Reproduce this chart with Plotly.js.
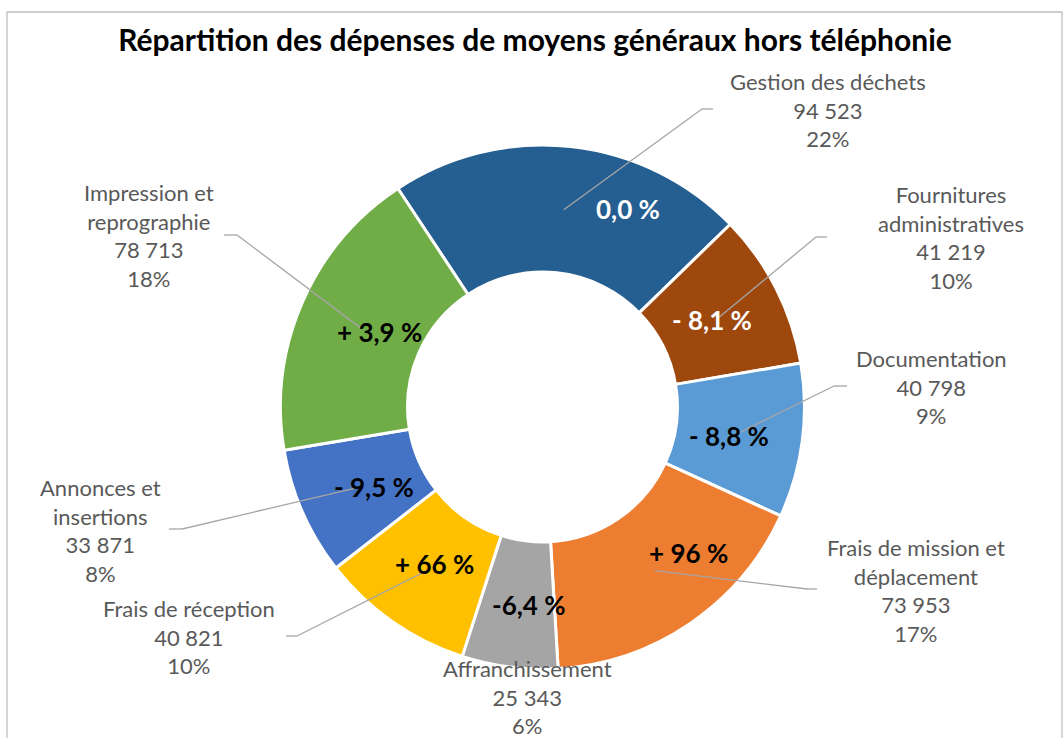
<!DOCTYPE html>
<html>
<head>
<meta charset="utf-8">
<script src="https://cdn.plot.ly/plotly-3.0.1.min.js"></script>
<style>html,body{margin:0;padding:0;background:#fff;}#chart{width:1064px;height:738px;}</style>
</head>
<body>
<div id="chart"></div>
<script>
// ---- Data ----
const categories = [
  'Gestion des déchets',
  'Fournitures<br>administratives',
  'Documentation',
  'Frais de mission et<br>déplacement',
  'Affranchissement',
  'Frais de réception',
  'Annonces et<br>insertions',
  'Impression et<br>reprographie'
];
const values = [94523, 41219, 40798, 73953, 25343, 40821, 33871, 78713];
const shareLabels = ['22%', '10%', '9%', '17%', '6%', '10%', '8%', '18%'];
const changeLabels = ['0,0 %', '- 8,1 %', '- 8,8 %', '+ 96 %', '-6,4 %', '+ 66 %', '- 9,5 %', '+ 3,9 %'];

// ---- Styling / layout configuration ----
const colors = ['#255E91', '#9E480E', '#5B9BD5', '#ED7D31', '#A5A5A5', '#FFC000', '#4472C4', '#70AD47'];
const changeColors = ['#FFFFFF', '#FFFFFF', '#000000', '#000000', '#000000', '#000000', '#000000', '#000000'];
const W = 1064, H = 738;
const CX = 542.5, CY = 407, R_OUT = 262, HOLE = 0.515;
const ROTATION = -33.5;
// inside label shifts (px) relative to slice mid-ring point
const insideShift = [[64, -1], [-7, 3], [-10, 3], [34, -18], [11, 1], [6, -6], [13, 0], [19, 4]];
// outer label centers (px)
const outerPos = [[828, 110], [951, 238], [931, 387], [916, 590], [527, 697], [189, 637], [100, 530], [149, 235]];
// leader line elbows: [elbowX, elbowY, endX] (null = no line)
const leaders = [[702, 109, 713], [816, 237, 827], [834, 386, 847], [807, 589, 817], null, [297, 636, 286], [182, 529, 169], [237, 235, 224]];

function fmt(v) { return String(v).replace(/\B(?=(\d{3})+(?!\d))/g, ' '); }
const px = x => x / W;
const py = y => 1 - y / H;

const total = values.reduce((a, b) => a + b, 0);
const rMid = R_OUT * (1 + HOLE) / 2;
let cum = 0;
const anchors = values.map(v => {
  const ang = (ROTATION + (cum + v / 2) / total * 360) * Math.PI / 180;
  cum += v;
  return [CX + rMid * Math.sin(ang), CY - rMid * Math.cos(ang)];
});

const annotations = [];
const shapes = [];
// border
shapes.push({type: 'rect', xref: 'paper', yref: 'paper', x0: px(7), x1: px(1062), y0: py(760), y1: py(12),
  line: {color: '#BFBFBF', width: 1.3}, fillcolor: 'rgba(0,0,0,0)', layer: 'below'});

categories.forEach((c, i) => {
  const a = anchors[i];
  const L = leaders[i];
  if (L) {
    shapes.push({type: 'line', xref: 'paper', yref: 'paper', x0: px(a[0]), y0: py(a[1]), x1: px(L[0]), y1: py(L[1]),
      line: {color: '#A6A6A6', width: 1.3}});
    shapes.push({type: 'line', xref: 'paper', yref: 'paper', x0: px(L[0]), y0: py(L[1]), x1: px(L[2]), y1: py(L[1]),
      line: {color: '#A6A6A6', width: 1.3}});
  }
  annotations.push({xref: 'paper', yref: 'paper', x: px(a[0] + insideShift[i][0]), y: py(a[1] + insideShift[i][1]),
    xanchor: 'center', yanchor: 'middle', showarrow: false, text: '<b>' + changeLabels[i] + '</b>',
    font: {family: 'Lato, "Open Sans", sans-serif', size: 26, color: changeColors[i]}});
  annotations.push({xref: 'paper', yref: 'paper', x: px(outerPos[i][0]), y: py(outerPos[i][1]),
    xanchor: 'center', yanchor: 'middle', showarrow: false, align: 'center',
    text: c + '<br>' + fmt(values[i]) + '<br>' + shareLabels[i],
    font: {family: 'Lato, "Open Sans", sans-serif', size: 22, color: '#595959'}});
});

const trace = {
  type: 'pie',
  labels: categories,
  values: values,
  sort: false,
  direction: 'clockwise',
  rotation: ROTATION,
  hole: HOLE,
  textinfo: 'none',
  hoverinfo: 'label+value+percent',
  marker: {colors: colors, line: {color: '#FFFFFF', width: 3}},
  domain: {x: [px(CX - R_OUT), px(CX + R_OUT)], y: [py(CY + R_OUT), py(CY - R_OUT)]},
  showlegend: false
};

const layout = {
  width: W, height: H,
  margin: {l: 0, r: 0, t: 0, b: 0},
  paper_bgcolor: '#FFFFFF',
  showlegend: false,
  title: {text: '<b>Répartition des dépenses de moyens généraux hors téléphonie</b>',
    x: 535 / W, xanchor: 'center', y: py(40), yanchor: 'middle', yref: 'paper',
    font: {family: 'Lato, "Open Sans", sans-serif', size: 30, color: '#000000'}},
  annotations: annotations,
  shapes: shapes
};

Plotly.newPlot('chart', [trace], layout, {displayModeBar: false, staticPlot: true});
</script>
</body>
</html>
